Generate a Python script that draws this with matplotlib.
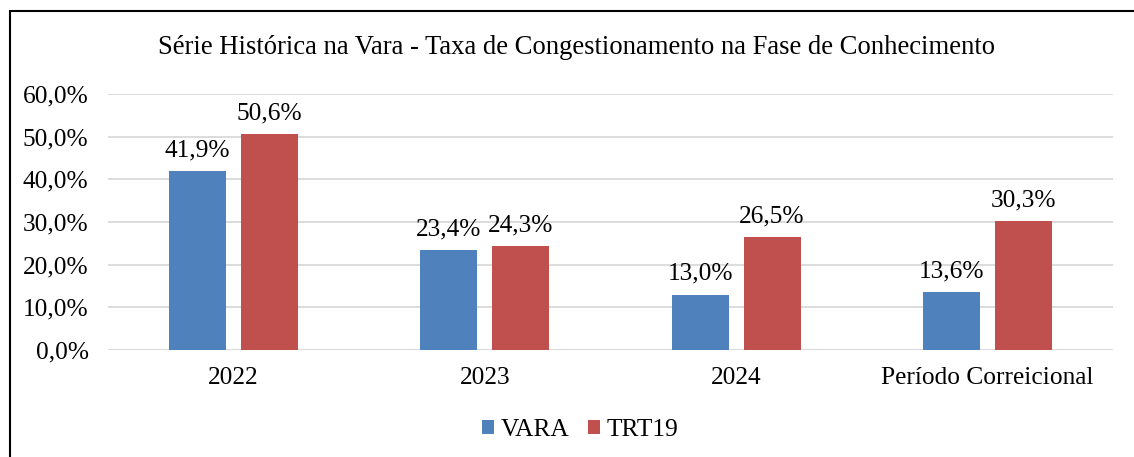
import matplotlib
matplotlib.use("Agg")
import matplotlib.pyplot as plt
from matplotlib.patches import Rectangle
import numpy as np

categories = ["2022", "2023", "2024", "Período Correicional"]
vara = [41.9, 23.4, 13.0, 13.6]
trt19 = [50.6, 24.3, 26.5, 30.3]
series_names = ["VARA", "TRT19"]
yticks = [0, 10, 20, 30, 40, 50, 60]

plt.rcParams['font.family'] = ['Liberation Serif', 'DejaVu Serif']

W, H = 1134, 457
fig = plt.figure(figsize=(W / 100, H / 100), dpi=100)
ax = fig.add_axes([108 / W, 1 - 350 / H, (1113 - 108) / W, (350 - 94) / H])

FS = 18.3
x = np.arange(len(categories))
bw = 0.227
off = 0.143
c_blue = "#4F81BD"
c_red = "#C0504D"
b1 = ax.bar(x - off, vara, bw, color=c_blue, label=series_names[0], zorder=3)
b2 = ax.bar(x + off, trt19, bw, color=c_red, label=series_names[1], zorder=3)

fmt = lambda v: f"{v:.1f}%".replace(".", ",")
for bars, vals in ((b1, vara), (b2, trt19)):
    for r, v in zip(bars, vals):
        ax.annotate(fmt(v), (r.get_x() + r.get_width() / 2, v), xytext=(0, 7),
                    textcoords="offset points", ha="center", va="bottom", fontsize=FS)

ax.set_xlim(-0.5, len(categories) - 0.5)
ax.set_ylim(0, 60)
ax.set_yticks(yticks)
ax.set_yticklabels([f"{t:.1f}%".replace(".", ",") for t in yticks], fontsize=FS)
ax.set_xticks(x)
ax.set_xticklabels(categories, fontsize=FS)
ax.tick_params(axis='y', length=0, pad=14)
ax.tick_params(axis='x', length=0, pad=12)
ax.yaxis.grid(True, color="#D9D9D9", linewidth=1.3, zorder=0)
for s in ax.spines.values():
    s.set_visible(False)

fig.text(576 / W, 1 - 47 / H, "Série Histórica na Vara - Taxa de Congestionamento na Fase de Conhecimento",
         ha="center", va="center", fontsize=19.2)

leg = fig.legend(handles=[b1, b2], labels=series_names, loc="center", bbox_to_anchor=(580 / W, 1 - 430 / H),
                 ncol=2, frameon=False, fontsize=FS, handlelength=0.48, handleheight=0.48,
                 handletextpad=0.25, columnspacing=0.75)

fig.patches.append(Rectangle((9.5 / W, -0.01), 1.1, 1 - 10.5 / H + 0.01, transform=fig.transFigure,
                             fill=False, edgecolor="black", linewidth=1.5))

fig.savefig("out.png", dpi=100)
